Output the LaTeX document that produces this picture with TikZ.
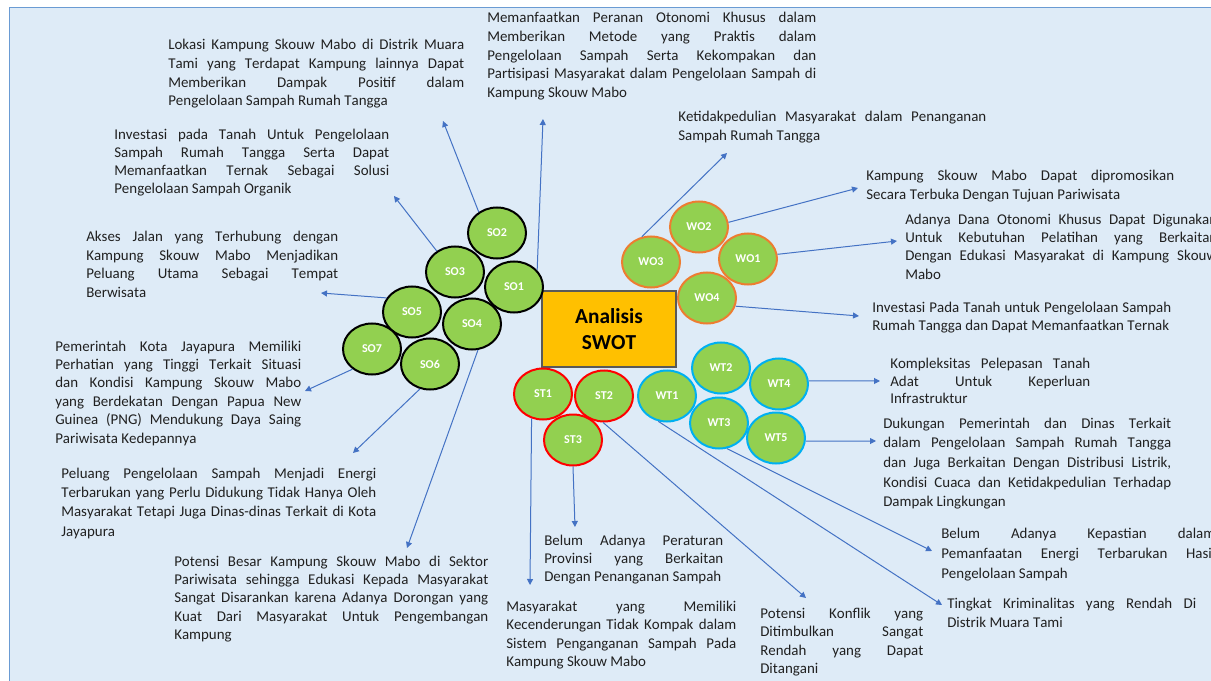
\documentclass[tikz,border=0pt]{standalone}
\usepackage{fontspec}
\setmainfont{Carlito}[Kerning=Off]
\usepackage{xcolor}
\usetikzlibrary{shapes.geometric,arrows.meta}

\definecolor{bgblue}{HTML}{DEEBF7}
\definecolor{frameblue}{HTML}{6A9BD3}
\definecolor{arrowblue}{HTML}{4472C4}
\definecolor{leafgreen}{HTML}{92D050}
\definecolor{woline}{HTML}{ED7D31}
\definecolor{stline}{HTML}{FF0000}
\definecolor{wtline}{HTML}{00B0F0}
\definecolor{boxorange}{HTML}{FFC000}
\definecolor{boxline}{HTML}{595959}
\definecolor{txt}{HTML}{202020}

% paragraf rata kiri-kanan tanpa pemenggalan kata
\newcommand\rataPenuh{\tolerance=10000\relax\hbadness=10000\relax
  \hyphenpenalty=10000\relax\exhyphenpenalty=10000\relax}

\begin{document}
\begin{tikzpicture}[
    x=0.75pt, y=-0.75pt,
    leaf/.style={ellipse, line width=1.5pt, fill=leafgreen, minimum width=43.5pt,
      minimum height=38.25pt, inner sep=0pt, text=white,
      font=\fontsize{9}{10}\selectfont\bfseries},
    so/.style={leaf, draw=black},
    wo/.style={leaf, draw=woline},
    st/.style={leaf, draw=stline},
    wt/.style={leaf, draw=wtline},
    desc/.style={anchor=base west, inner sep=0pt, align=justify, text=txt,
      font=\fontsize{11.2}{#1}\selectfont\rataPenuh},
    desc/.default=13.8pt,
    arr/.style={draw=arrowblue, line width=0.75pt, -{Triangle[length=4.5pt,width=4.5pt]}}
  ]

  \useasboundingbox (0,0) rectangle (1211,681);
  \clip (0,0) rectangle (1211,681);

  % latar
  \fill[white] (0,0) rectangle (1211,681);
  \filldraw[fill=bgblue, draw=frameblue, line width=0.75pt] (9,8) rectangle (1240,700);

  % kotak tengah
  \node[draw=boxline, fill=boxorange, line width=1.1pt, minimum width=100.5pt,
    minimum height=57pt, align=center, inner sep=0pt,
    font=\fontsize{16}{20}\selectfont\bfseries] (swot) at (609,329) {Analisis\\SWOT};

  % SO
  \node[so] (so2) at (497,233) {SO2};
  \node[so] (so3) at (455,272) {SO3};
  \node[so] (so1) at (514,287) {SO1};
  \node[so] (so5) at (412,312) {SO5};
  \node[so] (so4) at (472,324) {SO4};
  \node[so] (so7) at (372,349) {SO7};
  \node[so] (so6) at (430,364) {SO6};

  % WO
  \node[wo] (wo2) at (699,227) {WO2};
  \node[wo] (wo3) at (651,262) {WO3};
  \node[wo] (wo1) at (748,259) {WO1};
  \node[wo] (wo4) at (707,298) {WO4};

  % ST
  \node[st] (st1) at (543,394) {ST1};
  \node[st] (st2) at (604,396) {ST2};
  \node[st] (st3) at (573,440) {ST3};

  % WT
  \node[wt] (wt1) at (667,396) {WT1};
  \node[wt] (wt2) at (721,368) {WT2};
  \node[wt] (wt4) at (779,384) {WT4};
  \node[wt] (wt3) at (719,423) {WT3};
  \node[wt] (wt5) at (776,438) {WT5};

  % keterangan SO
  \node[desc=14pt, text width=222pt] (lokasi) at (168,50)
    {Lokasi Kampung Skouw Mabo di Distrik Muara\linebreak
     Tami yang Terdapat Kampung lainnya Dapat\linebreak
     Memberikan Dampak Positif dalam\linebreak
     Pengelolaan Sampah Rumah Tangga};
  \node[desc=13.5pt, text width=206.25pt] (ternak) at (114,140)
    {Investasi pada Tanah Untuk Pengelolaan\linebreak
     Sampah Rumah Tangga Serta Dapat\linebreak
     Memanfaatkan Ternak Sebagai Solusi\linebreak
     Pengelolaan Sampah Organik};
  \node[desc=13.9pt, text width=246.75pt] (otsus) at (487,23)
    {Memanfaatkan Peranan Otonomi Khusus dalam\linebreak
     Memberikan Metode yang Praktis dalam\linebreak
     Pengelolaan Sampah Serta Kekompakan dan\linebreak
     Partisipasi Masyarakat dalam Pengelolaan Sampah di\linebreak
     Kampung Skouw Mabo};
  \node[desc, text width=189pt] (akses) at (86,242)
    {Akses Jalan yang Terhubung dengan\linebreak
     Kampung Skouw Mabo Menjadikan\linebreak
     Peluang Utama Sebagai Tempat\linebreak
     Berwisata};
  \node[desc, text width=184.5pt] (pemkot) at (55,351)
    {Pemerintah Kota Jayapura Memiliki\linebreak
     Perhatian yang Tinggi Terkait Situasi\linebreak
     dan Kondisi Kampung Skouw Mabo\linebreak
     yang Berdekatan Dengan Papua New\linebreak
     Guinea (PNG) Mendukung Daya Saing\linebreak
     Pariwisata Kedepannya};
  \node[desc=14.6pt, text width=236.25pt] (energi) at (61,478)
    {Peluang Pengelolaan Sampah Menjadi Energi\linebreak
     Terbarukan yang Perlu Didukung Tidak Hanya Oleh\linebreak
     Masyarakat Tetapi Juga Dinas-dinas Terkait di Kota\linebreak
     Jayapura};
  \node[desc, text width=235.5pt] (wisata) at (174,566)
    {Potensi Besar Kampung Skouw Mabo di Sektor\linebreak
     Pariwisata sehingga Edukasi Kepada Masyarakat\linebreak
     Sangat Disarankan karena Adanya Dorongan yang\linebreak
     Kuat Dari Masyarakat Untuk Pengembangan\linebreak
     Kampung};

  % keterangan WO
  \node[desc=13.9pt, text width=231pt] (apatis) at (678,122)
    {Ketidakpedulian Masyarakat dalam Penanganan\linebreak
     Sampah Rumah Tangga};
  \node[desc=13.6pt, text width=231pt] (promosi) at (866,181)
    {Kampung Skouw Mabo Dapat dipromosikan\linebreak
     Secara Terbuka Dengan Tujuan Pariwisata};
  \node[desc, text width=234pt] (pelatihan) at (905,224)
    {Adanya Dana Otonomi Khusus Dapat Digunakan\linebreak
     Untuk Kebutuhan Pelatihan yang Berkaitan\linebreak
     Dengan Edukasi Masyarakat di Kampung Skouw\linebreak
     Mabo};
  \node[desc=13.6pt, text width=224.25pt] (lahan) at (872,312)
    {Investasi Pada Tanah untuk Pengelolaan Sampah\linebreak
     Rumah Tangga dan Dapat Memanfaatkan Ternak};

  % keterangan WT
  \node[desc=13.5pt, text width=150pt] (adat) at (890,368)
    {Kompleksitas Pelepasan Tanah\linebreak
     Adat Untuk Keperluan\linebreak
     Infrastruktur};
  \node[desc=14.8pt, text width=216pt] (dukungan) at (883,428)
    {Dukungan Pemerintah dan Dinas Terkait\linebreak
     dalam Pengelolaan Sampah Rumah Tangga\linebreak
     dan Juga Berkaitan Dengan Distribusi Listrik,\linebreak
     Kondisi Cuaca dan Ketidakpedulian Terhadap\linebreak
     Dampak Lingkungan};
  \node[desc=15pt, text width=205.5pt] (kepastian) at (941,538)
    {Belum Adanya Kepastian dalam\linebreak
     Pemanfaatan Energi Terbarukan Hasil\linebreak
     Pengelolaan Sampah};
  \node[desc=14.6pt, text width=186.75pt] (kriminal) at (947,608)
    {Tingkat Kriminalitas yang Rendah Di\linebreak
     Distrik Muara Tami};

  % keterangan ST
  \node[desc=13.9pt, text width=122.25pt] (konflik) at (760,618)
    {Potensi Konflik yang\linebreak
     Ditimbulkan Sangat\linebreak
     Rendah yang Dapat\linebreak
     Ditangani};
  \node[desc=13.5pt, text width=134.25pt] (perda) at (544,545)
    {Belum Adanya Peraturan\linebreak
     Provinsi yang Berkaitan\linebreak
     Dengan Penanganan Sampah};
  \node[desc=13.9pt, text width=172.5pt] (kompak) at (506,611)
    {Masyarakat yang Memiliki\linebreak
     Kecenderungan Tidak Kompak dalam\linebreak
     Sistem Penganganan Sampah Pada\linebreak
     Kampung Skouw Mabo};

  % ujung panah
  \coordinate (so2-end) at (443,121);
  \coordinate (so3-end) at (394,196);
  \coordinate (so1-end) at (543,119);
  \coordinate (so5-end) at (321,293);
  \coordinate (so7-end) at (305,391);
  \coordinate (so6-end) at (353,453);
  \coordinate (so4-end) at (407,548);
  \coordinate (wo3-end) at (727,153);
  \coordinate (wo2-end) at (858,188);
  \coordinate (wo1-end) at (897,241);
  \coordinate (wo4-end) at (859,316);
  \coordinate (wt4-end) at (880,381);
  \coordinate (wt5-end) at (876,441);
  \coordinate (wt3-end) at (932,551);
  \coordinate (wt1-end) at (942,605);
  \coordinate (st2-end) at (806,598);
  \coordinate (st3-end) at (575,527);
  \coordinate (st1-end) at (530,585);

  \draw[arr] (so2.131) -- (so2-end);
  \draw[arr] (so3.131) -- (so3-end);
  \draw[arr] (so1.36) -- (so1-end);
  \draw[arr] (so5.151) -- (so5-end);
  \draw[arr] (so7.226) -- (so7-end);
  \draw[arr] (so6.248) -- (so6-end);
  \draw[arr] (so4.283) -- (so4-end);

  \draw[arr] (wo3.110) -- (wo3-end);
  \draw[arr] (wo2.9) -- (wo2-end);
  \draw[arr] (wo1.9) -- (wo1-end);
  \draw[arr] (wo4.344) -- (wo4-end);

  \draw[arr] (wt4.6) -- (wt4-end);
  \draw[arr] (wt5.354) -- (wt5-end);
  \draw[arr] (wt3.287) -- (wt3-end);
  \draw[arr] (wt1.251) -- (wt1-end);

  \draw[arr] (st2.268) -- (st2-end);
  \draw[arr] (st3.south) -- (st3-end);
  \draw[arr] (st1.245) -- (st1-end);
\end{tikzpicture}
\end{document}
